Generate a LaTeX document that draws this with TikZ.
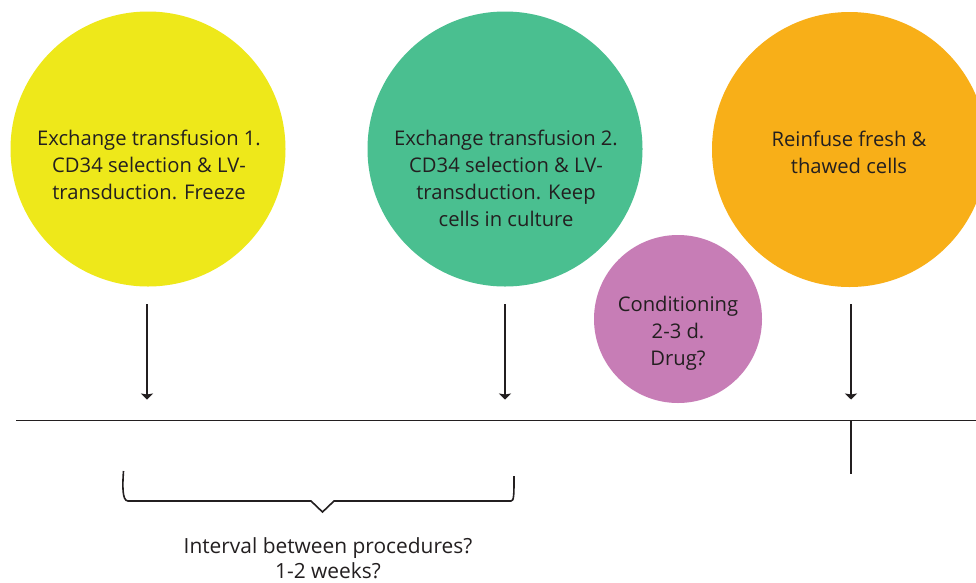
\documentclass[tikz,border=0pt]{standalone}
\usepackage{fontspec}
\setmainfont{Open Sans}
\usetikzlibrary{arrows.meta}
\definecolor{cyel}{HTML}{EEE81A}
\definecolor{cgrn}{HTML}{4ABF90}
\definecolor{corg}{HTML}{F8AF18}
\definecolor{cpur}{HTML}{C77DB6}
\definecolor{ctxt}{HTML}{231F20}
\tikzset{
  x=1pt,y=-1pt,
  stage/.style={circle,inner sep=0pt,minimum size=#1},
  stagetext/.style={align=center,text=ctxt,inner sep=0pt,font=\fontsize{20.2}{27}\selectfont},
  arr/.style={draw=ctxt,line width=1.8pt,-{Stealth[length=6pt,width=12pt,inset=1pt]}},
  rule/.style={draw=ctxt,line width=1.6pt},
  lab/.style={align=center,text=ctxt,font=\fontsize{20.9}{25}\selectfont,inner sep=0pt},
}
\begin{document}
\begin{tikzpicture}
\useasboundingbox[fill=white] (0,0) rectangle (976,582);
\node[stage=275pt,fill=cyel] (c1) at (148,149) {};
\node[stage=275pt,fill=cgrn] (c2) at (505,149) {};
\node[stage=275pt,fill=corg] (c3) at (849.5,149.5) {};
\node[stage=168pt,fill=cpur] (c4) at (678,319) {};
\node[stagetext] (t1n) at (149,165) {Exchange transfusion 1.\\CD34 selection \& LV-\\transduction. Freeze};
\node[stagetext] (t2n) at (506,178.5) {Exchange transfusion 2.\\CD34 selection \& LV-\\transduction. Keep\\cells in culture};
\node[stagetext] (t3n) at (849,152) {Reinfuse fresh \&\\thawed cells};
\node[stagetext] (t4n) at (678,333) {Conditioning\\2-3 d.\\Drug?};
\coordinate (a1s) at (147,304); \coordinate (a1e) at (147,399.5);
\coordinate (a2s) at (505,304); \coordinate (a2e) at (505,399.5);
\coordinate (a3s) at (851,304); \coordinate (a3e) at (851,399.5);
\draw[arr] (a1s) -- (a1e);
\draw[arr] (a2s) -- (a2e);
\draw[arr] (a3s) -- (a3e);
\coordinate (l1) at (16,420.5); \coordinate (l2) at (976,420.5);
\draw[rule] (l1) -- (l2);
\coordinate (t1) at (851,420.5); \coordinate (t2) at (851,474);
\draw[rule] (t1) -- (t2);
\draw[rule] (123.5,471) .. controls (122.5,485) and (122,501) .. (128,501) -- (311,501) -- (322.5,512) -- (334,501) -- (511,501) .. controls (514,501) and (514,495) .. (514,476);
\node[lab] (n) at (328,558.5) {Interval between procedures?\\1-2 weeks?};
\end{tikzpicture}
\end{document}
